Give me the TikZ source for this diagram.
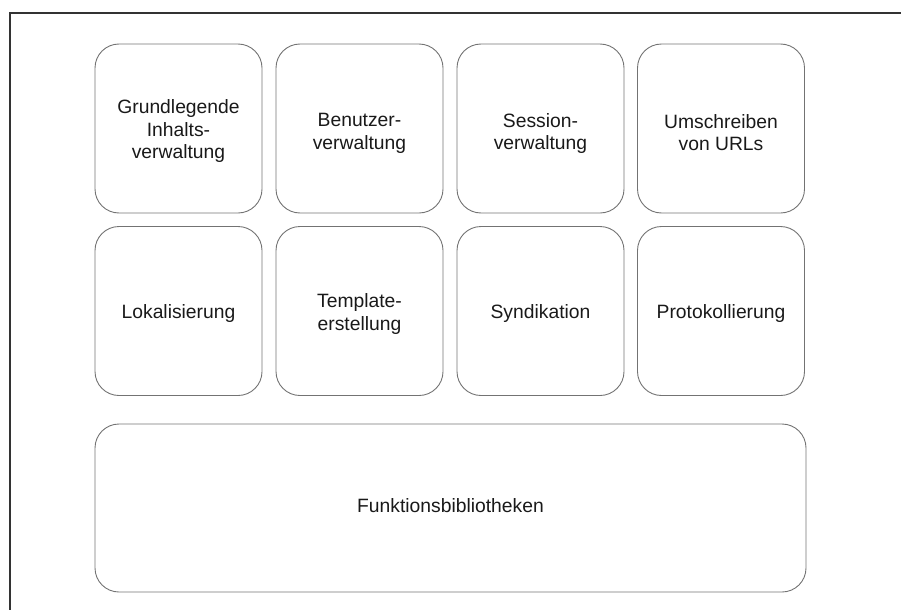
\documentclass[tikz,border=0pt]{standalone}
\usepackage{fontspec}
\setmainfont{Liberation Sans}
\begin{document}
\begin{tikzpicture}[x=1pt,y=-1pt,
  modbox/.style={draw=black!55, line width=0.9pt, rounded corners=24pt,
    minimum width=167pt, minimum height=169pt, inner sep=0pt},
  modtext/.style={align=center, text=black!90, inner sep=0pt,
    font=\fontsize{19.3}{22.5}\selectfont},
  frameline/.style={draw=black!80, line width=1.3pt}]
  \useasboundingbox (0,0) rectangle (901,610);
  % outer frame: top and left edge only
  \draw[frameline] (901,13) -- (10,13) -- (10,610);
  % first row of modules
  \node[modbox] (inhalt)   at (178.5,128.5) {};
  \node[modbox] (benutzer) at (359.5,128.5) {};
  \node[modbox] (session)  at (540.5,128.5) {};
  \node[modbox] (urls)     at (721,128.5)   {};
  % second row of modules
  \node[modbox] (lokal)    at (178.5,311) {};
  \node[modbox] (template) at (359.5,311) {};
  \node[modbox] (synd)     at (540.5,311) {};
  \node[modbox] (proto)    at (721,311)   {};
  % base layer
  \node[modbox, minimum width=711pt, minimum height=168pt] (biblio) at (450.5,508) {};
  % module labels
  \node[modtext] (inhaltT)   at ([yshift=-3pt]inhalt.center)   {Grundlegende\\Inhalts-\\verwaltung};
  \node[modtext] (benutzerT) at ([yshift=-5pt]benutzer.center) {Benutzer-\\verwaltung};
  \node[modtext] (sessionT)  at ([yshift=-5pt]session.center)  {Session-\\verwaltung};
  \node[modtext] (urlsT)     at ([yshift=-4pt]urls.center)     {Umschreiben\\von URLs};
  \node[modtext] (lokalT)    at ([yshift=-3pt]lokal.center)    {Lokalisierung};
  \node[modtext] (templateT) at ([yshift=-3pt]template.center) {Template-\\erstellung};
  \node[modtext] (syndT)     at ([yshift=-3pt]synd.center)     {Syndikation};
  \node[modtext] (protoT)    at ([yshift=-3pt]proto.center)    {Protokollierung};
  \node[modtext] (biblioT)   at ([yshift=2pt]biblio.center)    {Funktionsbibliotheken};
\end{tikzpicture}
\end{document}
